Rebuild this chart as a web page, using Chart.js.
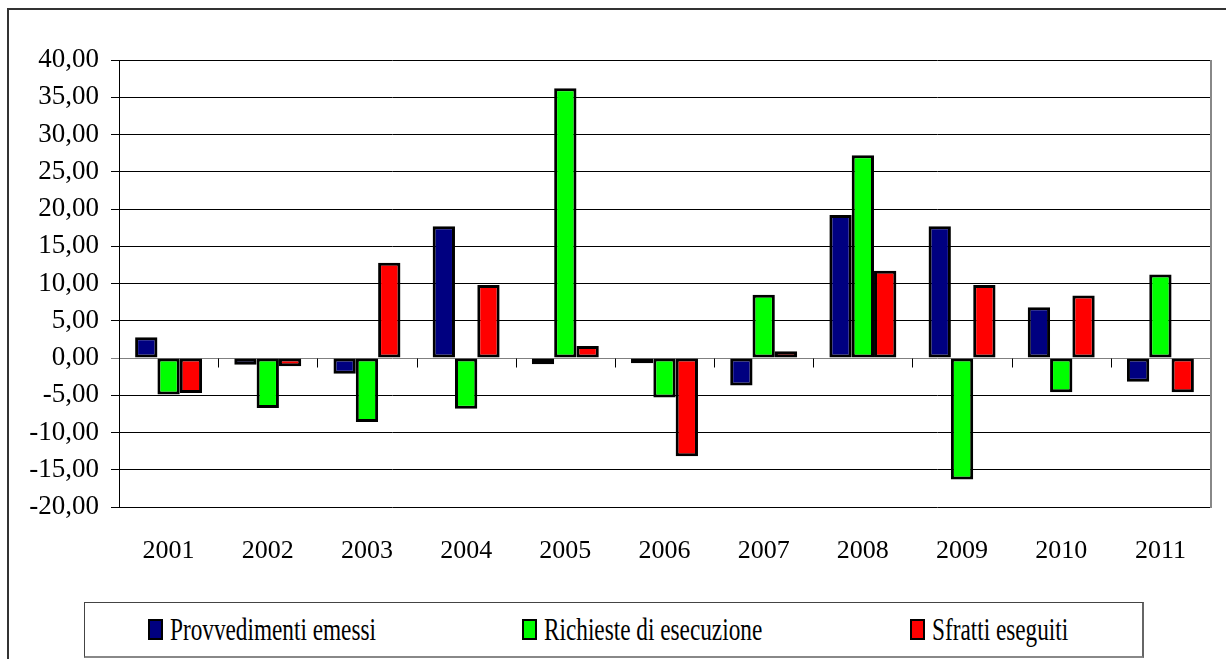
<!DOCTYPE html>
<html>
<head>
<meta charset="utf-8">
<script src="https://cdn.jsdelivr.net/npm/chart.js@4.4.0/dist/chart.umd.min.js"></script>
<style>
  html, body { margin: 0; padding: 0; background: #fff; }
  #wrap { position: relative; width: 1226px; height: 659px; overflow: hidden; }
  #frame { position: absolute; left: 7px; top: 8px; width: 1240px; height: 680px;
           border-left: 2px solid #333; border-top: 2px solid #333; }
  canvas { position: absolute; left: 0; top: 0; }
  #legend { position: absolute; left: 84px; top: 602px; width: 1057px; height: 53px;
            border: 1px solid #444; border-bottom: 2px solid #888; border-right: 2px solid #666;
            background: #fff; font-family: "Liberation Serif", "Times New Roman", serif; }
  .item { position: absolute; top: 0; height: 100%; }
  .sw { position: absolute; top: 16px; width: 11px; height: 17px; border: 2.5px solid #000; }
  .lbl { position: absolute; left: 22px; top: 11px; font-size: 31px; line-height: 31px;
         white-space: nowrap; transform: scaleX(0.75); transform-origin: left top; color: #000; }
</style>
</head>
<body>
<div id="wrap">
  <div id="frame"></div>
  <canvas id="chart" width="1226" height="659"></canvas>
  <div id="legend"></div>
</div>
<script>
const years = ['2001', '2002', '2003', '2004', '2005', '2006', '2007', '2008', '2009', '2010', '2011'];
const provvedimenti = [2.8, -0.9, -2.1, 17.7, -0.85, -0.7, -3.7, 19.2, 17.7, 6.8, -3.2];
const richieste = [-4.9, -6.7, -8.6, -6.8, 36.2, -5.3, 8.5, 27.2, -16.3, -4.6, 11.2];
const sfratti = [-4.7, -1.1, 12.8, 9.8, 1.6, -13.2, 0.9, 11.7, 9.8, 8.4, -4.6];
const seriesNames = ['Provvedimenti emessi', 'Richieste di esecuzione', 'Sfratti eseguiti'];
const seriesColors = ['#000080', '#00FF00', '#FF0000'];
const legendLeft = [63, 437, 825];

const serif = '"Liberation Serif", "Times New Roman", serif';

// small tick marks on the zero line between categories + grey right edge
const extras = {
  id: 'extras',
  afterDraw(chart) {
    const ctx = chart.ctx;
    const x = chart.scales.x, y = chart.scales.y;
    const y0 = Math.round(y.getPixelForValue(0)) + 0.5;
    const half = (x.getPixelForValue(1) - x.getPixelForValue(0)) / 2;
    ctx.save();
    ctx.lineWidth = 1;
    for (let i = 0; i < years.length; i++) {
      const bx = Math.round(x.getPixelForValue(i) + half) + 0.5;
      ctx.strokeStyle = i === years.length - 1 ? '#888' : '#000';
      ctx.beginPath();
      ctx.moveTo(bx, y0);
      ctx.lineTo(bx, y0 + 9);
      ctx.stroke();
    }
    const a = chart.chartArea;
    ctx.strokeStyle = '#888';
    ctx.lineWidth = 2;
    ctx.beginPath();
    ctx.moveTo(a.right + 1, a.top);
    ctx.lineTo(a.right + 1, a.bottom + 1);
    ctx.stroke();
    ctx.restore();
  }
};

const datasets = [provvedimenti, richieste, sfratti].map((vals, i) => ({
  label: seriesNames[i],
  data: vals,
  backgroundColor: seriesColors[i],
  borderColor: '#000',
  borderWidth: 3,
  borderSkipped: false,
  barPercentage: 1,
  categoryPercentage: 0.675
}));

new Chart(document.getElementById('chart'), {
  type: 'bar',
  data: { labels: years, datasets: datasets },
  options: {
    responsive: false,
    animation: false,
    layout: { padding: { left: 0, top: 60, right: 16, bottom: 0 } },
    plugins: { legend: { display: false }, tooltip: { enabled: false } },
    scales: {
      x: {
        grid: { display: false, drawTicks: false },
        border: { display: false },
        ticks: { color: '#000', padding: 29, font: { family: serif, size: 26 } },
        afterFit: (s) => { s.height = 152; }
      },
      y: {
        min: -20,
        max: 40,
        ticks: {
          stepSize: 5,
          color: '#000',
          padding: 12,
          font: { family: serif, size: 27 },
          callback: (v) => v.toFixed(2).replace('.', ',')
        },
        grid: {
          color: (c) => (c.tick && c.tick.value === 0 ? '#808080' : '#000'),
          lineWidth: 1,
          tickLength: 8
        },
        border: { color: '#000', width: 1 },
        afterFit: (s) => { s.width = 119; }
      }
    }
  },
  plugins: [extras]
});

const legend = document.getElementById('legend');
seriesNames.forEach((name, i) => {
  const item = document.createElement('div');
  item.className = 'item';
  item.style.left = legendLeft[i] + 'px';
  const sw = document.createElement('div');
  sw.className = 'sw';
  sw.style.background = seriesColors[i];
  const lbl = document.createElement('div');
  lbl.className = 'lbl';
  lbl.textContent = name;
  item.appendChild(sw);
  item.appendChild(lbl);
  legend.appendChild(item);
});
</script>
</body>
</html>
